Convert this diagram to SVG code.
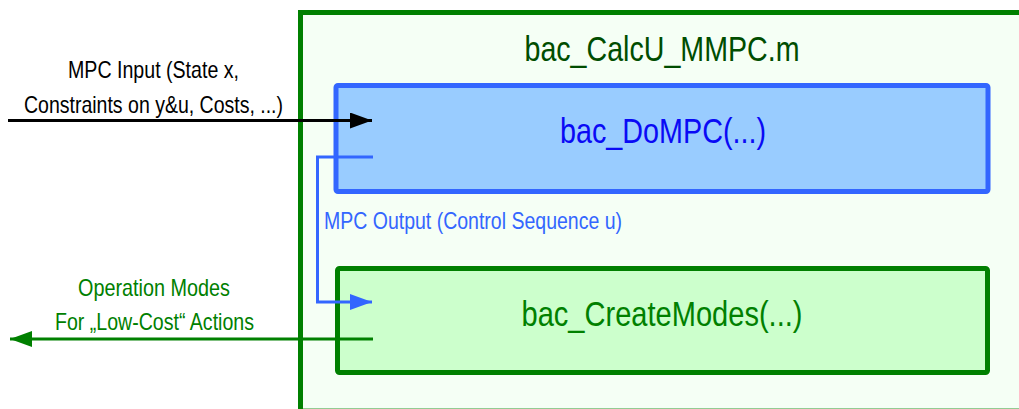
<svg xmlns="http://www.w3.org/2000/svg" width="1019" height="409" viewBox="0 0 1019 409">
  <style>
    text { font-family: "Liberation Sans", Arial, sans-serif; }
    .lbl { font-size: 24px; }
    .title { font-size: 35px; }
    .conn { fill: none; stroke-width: 3; }
  </style>
  <defs>
    <marker id="arrBlack" markerUnits="userSpaceOnUse" markerWidth="24" markerHeight="16" refX="22" refY="8" orient="auto">
      <path d="M0,0 L22,8 L0,16 Z" fill="#000000"/>
    </marker>
    <marker id="arrGreen" markerUnits="userSpaceOnUse" markerWidth="24" markerHeight="16" refX="22" refY="8" orient="auto">
      <path d="M0,0 L22,8 L0,16 Z" fill="#008000"/>
    </marker>
    <marker id="arrBlue" markerUnits="userSpaceOnUse" markerWidth="24" markerHeight="16" refX="22" refY="8" orient="auto">
      <path d="M0,0 L22,8 L0,16 Z" fill="#3366ff"/>
    </marker>
  </defs>

  <rect width="1019" height="409" fill="#ffffff"/>

  <!-- outer file container -->
  <g id="calcu-mmpc">
    <rect x="300.5" y="12.5" width="730" height="398.6" fill="#f5fff5" stroke="#008000" stroke-width="5"/>
    <text class="title" x="662" y="61" text-anchor="middle" fill="#004d00" textLength="275" lengthAdjust="spacingAndGlyphs">bac_CalcU_MMPC.m</text>
  </g>

  <!-- MPC solver block -->
  <g id="dompc">
    <rect x="336" y="85.5" width="652" height="106" rx="2" fill="#99ccff" stroke="#3366ff" stroke-width="5"/>
    <text class="title" x="663" y="143" text-anchor="middle" fill="#0a0af5" textLength="206" lengthAdjust="spacingAndGlyphs">bac_DoMPC(...)</text>
  </g>

  <!-- mode generation block -->
  <g id="createmodes">
    <rect x="337.5" y="268.5" width="650" height="104" rx="2" fill="#ccffcc" stroke="#008000" stroke-width="5"/>
    <text class="title" x="662" y="326" text-anchor="middle" fill="#008000" textLength="281" lengthAdjust="spacingAndGlyphs">bac_CreateModes(...)</text>
  </g>

  <!-- connectors -->
  <g id="connectors">
    <line class="conn" x1="8" y1="120.5" x2="372" y2="120.5" stroke="#000000" marker-end="url(#arrBlack)"/>
    <polyline class="conn" points="373,157 317.5,157 317.5,302 372,302" stroke="#3366ff" stroke-width="2.5" marker-end="url(#arrBlue)"/>
    <line class="conn" x1="373" y1="339" x2="10" y2="339" stroke="#008000" marker-end="url(#arrGreen)"/>
  </g>

  <!-- connector labels -->
  <g id="labels">
    <text class="lbl" x="153.5" y="78" text-anchor="middle" fill="#000000" textLength="171" lengthAdjust="spacingAndGlyphs">MPC Input (State x,</text>
    <text class="lbl" x="153.5" y="113" text-anchor="middle" fill="#000000" textLength="259" lengthAdjust="spacingAndGlyphs">Constraints on y&amp;u, Costs, ...)</text>
    <text class="lbl" x="324" y="229" fill="#3366ff" textLength="298" lengthAdjust="spacingAndGlyphs">MPC Output (Control Sequence u)</text>
    <text class="lbl" x="154" y="296" text-anchor="middle" fill="#008000" textLength="152" lengthAdjust="spacingAndGlyphs">Operation Modes</text>
    <text class="lbl" x="154.5" y="330" text-anchor="middle" fill="#008000" textLength="199" lengthAdjust="spacingAndGlyphs">For „Low-Cost“ Actions</text>
  </g>
</svg>
